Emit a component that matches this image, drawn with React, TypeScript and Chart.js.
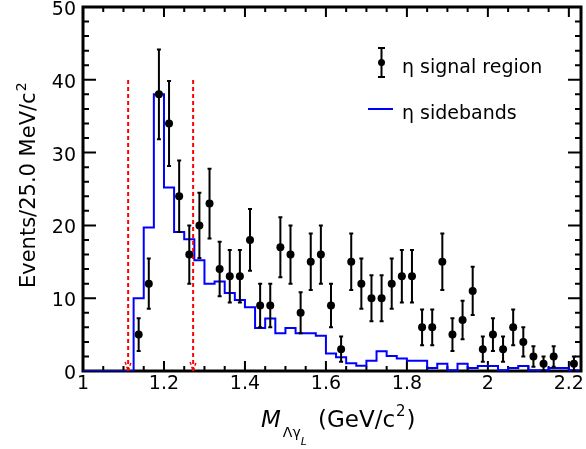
import React, { useEffect, useRef } from 'react';
import { Chart, registerables } from 'chart.js';

Chart.register(...registerables);

// ---------------- data ----------------
const BIN_START = 1.0;
const BIN_WIDTH = 0.025;

// eta signal region: events per 25 MeV bin (bins from 1.000 to 2.225)
const SIGNAL_COUNTS = [
  0, 0, 0, 0, 0, 5, 12, 38, 34, 24,
  16, 20, 23, 14, 13, 13, 18, 9, 9, 17,
  16, 8, 15, 16, 9, 3, 15, 12, 10, 10,
  12, 13, 13, 6, 6, 15, 5, 7, 11, 3,
  5, 3, 6, 4, 2, 1, 2, 0, 1,
];

// eta sidebands (normalised) per 25 MeV bin
const SIDEBAND_VALUES = [
  0, 0, 0, 0, 0, 10.0, 19.7, 38.0, 25.2, 19.1,
  18.1, 15.2, 12.0, 12.3, 10.7, 9.75, 8.75, 5.9, 7.2, 5.2,
  5.9, 5.2, 5.2, 4.85, 2.4, 1.9, 1.05, 0.73, 1.4, 2.7,
  2.06, 1.7, 1.4, 1.4, 0.4, 1.0, 0.1, 1.0, 0.4, 0.7,
  0.7, 0.1, 0.4, 0.7, 0.1, 0.1, 0.4, 0.4, 0.1,
];

const CUT_LINES = [1.1115, 1.272];
const CUT_TOP = 40;

const X_TICKS = [1, 1.2, 1.4, 1.6, 1.8, 2, 2.2];
const X_TICK_LABELS = ['1', '1.2', '1.4', '1.6', '1.8', '2', '2.2'];
const Y_TICKS = [0, 10, 20, 30, 40, 50];
const Y_TICK_LABELS = ['0', '10', '20', '30', '40', '50'];

const X_MIN = 1.0;
const X_MAX = 2.23;
const Y_MIN = 0;
const Y_MAX = 50;

const LEGEND_SIGNAL = 'η signal region';
const LEGEND_SIDEBAND = 'η sidebands';
const Y_TITLE = 'Events/25.0 MeV/c';
const FONT = 'DejaVu Sans';

export default function App() {
  const ref = useRef<HTMLCanvasElement>(null);

  useEffect(() => {
    const canvas = ref.current;
    if (!canvas) return;

    const signalData = SIGNAL_COUNTS.map((c, i) => ({
      x: BIN_START + (i + 0.5) * BIN_WIDTH,
      y: c,
    })).filter((p) => p.y > 0);

    const sbData = SIDEBAND_VALUES.map((v, i) => ({ x: BIN_START + i * BIN_WIDTH, y: v }));
    sbData.push({
      x: BIN_START + SIDEBAND_VALUES.length * BIN_WIDTH,
      y: SIDEBAND_VALUES[SIDEBAND_VALUES.length - 1],
    });

    const cutSets = CUT_LINES.map((cx) => ({
      type: 'line' as const,
      data: [
        { x: cx, y: Y_MIN },
        { x: cx, y: CUT_TOP },
      ],
      borderColor: '#ff0000',
      borderWidth: 2,
      borderDash: [4, 3],
      pointRadius: 0,
      fill: false,
    }));

    const framePlugin = {
      id: 'frame',
      beforeDatasetsDraw(chart: any) {
        const { ctx, chartArea: a, scales } = chart;
        const xs = scales.x;
        const ys = scales.y;
        ctx.save();
        ctx.strokeStyle = '#000';
        ctx.lineWidth = 2;
        for (let k = 0; k <= 25; k++) {
          const v = k * 2;
          const py = ys.getPixelForValue(v);
          const len = v % 10 === 0 ? 13 : 6;
          ctx.beginPath();
          ctx.moveTo(a.left, py);
          ctx.lineTo(a.left + len, py);
          ctx.moveTo(a.right, py);
          ctx.lineTo(a.right - len, py);
          ctx.stroke();
        }
        for (let k = 0; ; k++) {
          const v = X_MIN + k * 0.05;
          if (v > X_MAX + 1e-9) break;
          const px = xs.getPixelForValue(v);
          const len = k % 4 === 0 ? 10 : 5;
          ctx.beginPath();
          ctx.moveTo(px, a.bottom);
          ctx.lineTo(px, a.bottom - len);
          ctx.moveTo(px, a.top);
          ctx.lineTo(px, a.top + len);
          ctx.stroke();
        }
        ctx.lineWidth = 3;
        ctx.strokeRect(a.left, a.top, a.right - a.left, a.bottom - a.top);
        ctx.restore();
      },
    };

    const errorPlugin = {
      id: 'errbars',
      beforeDatasetDraw(chart: any, args: any) {
        if (args.index !== 0) return;
        const { ctx, scales } = chart;
        const xs = scales.x;
        const ys = scales.y;
        ctx.save();
        ctx.strokeStyle = '#000';
        ctx.lineWidth = 2;
        signalData.forEach((p) => {
          const e = Math.sqrt(p.y);
          const px = xs.getPixelForValue(p.x);
          const y1 = ys.getPixelForValue(p.y - e);
          const y2 = ys.getPixelForValue(p.y + e);
          ctx.beginPath();
          ctx.moveTo(px, y1);
          ctx.lineTo(px, y2);
          ctx.moveTo(px - 2, y1);
          ctx.lineTo(px + 2, y1);
          ctx.moveTo(px - 2, y2);
          ctx.lineTo(px + 2, y2);
          ctx.stroke();
        });
        ctx.restore();
      },
    };

    const annotPlugin = {
      id: 'annot',
      afterDraw(chart: any) {
        const { ctx, scales } = chart;
        const xs = scales.x;
        const ys = scales.y;
        ctx.save();
        ctx.strokeStyle = '#ff0000';
        ctx.lineWidth = 1.5;
        ctx.setLineDash([3, 2]);
        CUT_LINES.forEach((cx) => {
          const px = xs.getPixelForValue(cx);
          const py = ys.getPixelForValue(Y_MIN);
          ctx.beginPath();
          ctx.moveTo(px - 3, py - 9);
          ctx.lineTo(px, py);
          ctx.lineTo(px + 3, py - 9);
          ctx.stroke();
        });
        ctx.setLineDash([]);

        // legend
        ctx.fillStyle = '#000';
        ctx.strokeStyle = '#000';
        ctx.lineWidth = 2;
        ctx.beginPath();
        ctx.moveTo(381.5, 48);
        ctx.lineTo(381.5, 77);
        ctx.moveTo(378, 48);
        ctx.lineTo(385, 48);
        ctx.moveTo(378, 77);
        ctx.lineTo(385, 77);
        ctx.stroke();
        ctx.beginPath();
        ctx.arc(381.5, 62.5, 3.5, 0, Math.PI * 2);
        ctx.fill();
        ctx.strokeStyle = '#0000ff';
        ctx.beginPath();
        ctx.moveTo(368, 109);
        ctx.lineTo(393, 109);
        ctx.stroke();
        ctx.font = `19px "${FONT}"`;
        ctx.textBaseline = 'alphabetic';
        ctx.textAlign = 'left';
        ctx.fillText(LEGEND_SIGNAL, 402, 72.5);
        ctx.fillText(LEGEND_SIDEBAND, 402, 119);

        // x title: M_{Λγ_L} (GeV/c^2)
        let x = 261;
        const base = 427;
        ctx.font = `italic 23px "${FONT}"`;
        ctx.fillText('M', x, base);
        x += ctx.measureText('M').width + 2;
        ctx.font = `14px "${FONT}"`;
        ctx.fillText('Λγ', x, base + 10);
        x += ctx.measureText('Λγ').width;
        ctx.font = `italic 11px "${FONT}"`;
        ctx.fillText('L', x, base + 18);
        x = 318;
        ctx.font = `23px "${FONT}"`;
        ctx.fillText('(GeV/c', x, base);
        x += ctx.measureText('(GeV/c').width + 1;
        ctx.font = `15px "${FONT}"`;
        ctx.fillText('2', x, base - 11);
        x += ctx.measureText('2').width + 1;
        ctx.font = `23px "${FONT}"`;
        ctx.fillText(')', x, base);

        // y title
        ctx.translate(35, 288);
        ctx.rotate(-Math.PI / 2);
        ctx.font = `21px "${FONT}"`;
        ctx.fillText(Y_TITLE, 0, 0);
        const w = ctx.measureText(Y_TITLE).width;
        ctx.font = `14px "${FONT}"`;
        ctx.fillText('2', w + 1, -9);
        ctx.restore();
      },
    };

    const chart = new Chart(canvas, {
      type: 'scatter',
      data: {
        datasets: [
          {
            type: 'scatter',
            label: 'signal',
            data: signalData,
            pointRadius: 4,
            pointBackgroundColor: '#000',
            pointBorderWidth: 0,
            showLine: false,
          } as any,
          ...cutSets,
          {
            type: 'line',
            label: 'sidebands',
            data: sbData,
            stepped: 'before',
            borderColor: '#0000ff',
            borderWidth: 2,
            pointRadius: 0,
            fill: false,
          },
        ],
      },
      options: {
        animation: false,
        responsive: false,
        maintainAspectRatio: false,
        layout: { padding: { left: 0, top: 7, right: 5, bottom: 0 } },
        plugins: {
          legend: { display: false },
          tooltip: { enabled: false },
        },
        scales: {
          x: {
            type: 'linear',
            min: X_MIN,
            max: X_MAX,
            grid: { display: false, drawTicks: false },
            border: { display: false },
            afterBuildTicks: (s: any) => {
              s.ticks = X_TICKS.map((v) => ({ value: v }));
            },
            afterFit: (s: any) => {
              s.height = 78;
              s.paddingLeft = 0;
              s.paddingRight = 0;
            },
            ticks: {
              autoSkip: false,
              maxRotation: 0,
              minRotation: 0,
              padding: 2,
              color: '#000',
              font: { family: FONT, size: 19 },
              callback: (v: any) => {
                const i = X_TICKS.findIndex((t) => Math.abs(t - Number(v)) < 1e-6);
                return i >= 0 ? X_TICK_LABELS[i] : '';
              },
            },
          },
          y: {
            type: 'linear',
            min: Y_MIN,
            max: Y_MAX,
            grid: { display: false, drawTicks: false },
            border: { display: false },
            afterBuildTicks: (s: any) => {
              s.ticks = Y_TICKS.map((v) => ({ value: v }));
            },
            afterFit: (s: any) => {
              s.width = 83;
              s.paddingTop = 0;
              s.paddingBottom = 0;
            },
            ticks: {
              autoSkip: false,
              padding: 7,
              labelOffset: 3,
              color: '#000',
              font: { family: FONT, size: 19 },
              callback: (v: any) => {
                const i = Y_TICKS.findIndex((t) => Math.abs(t - Number(v)) < 1e-6);
                return i >= 0 ? Y_TICK_LABELS[i] : '';
              },
            },
          },
        },
      },
      plugins: [framePlugin, errorPlugin, annotPlugin],
    } as any);

    return () => chart.destroy();
  }, []);

  return (
    <div style={{ position: 'fixed', left: 0, top: 0, width: 586, height: 449, background: '#fff' }}>
      <canvas ref={ref} width={586} height={449} style={{ display: 'block' }} />
    </div>
  );
}
